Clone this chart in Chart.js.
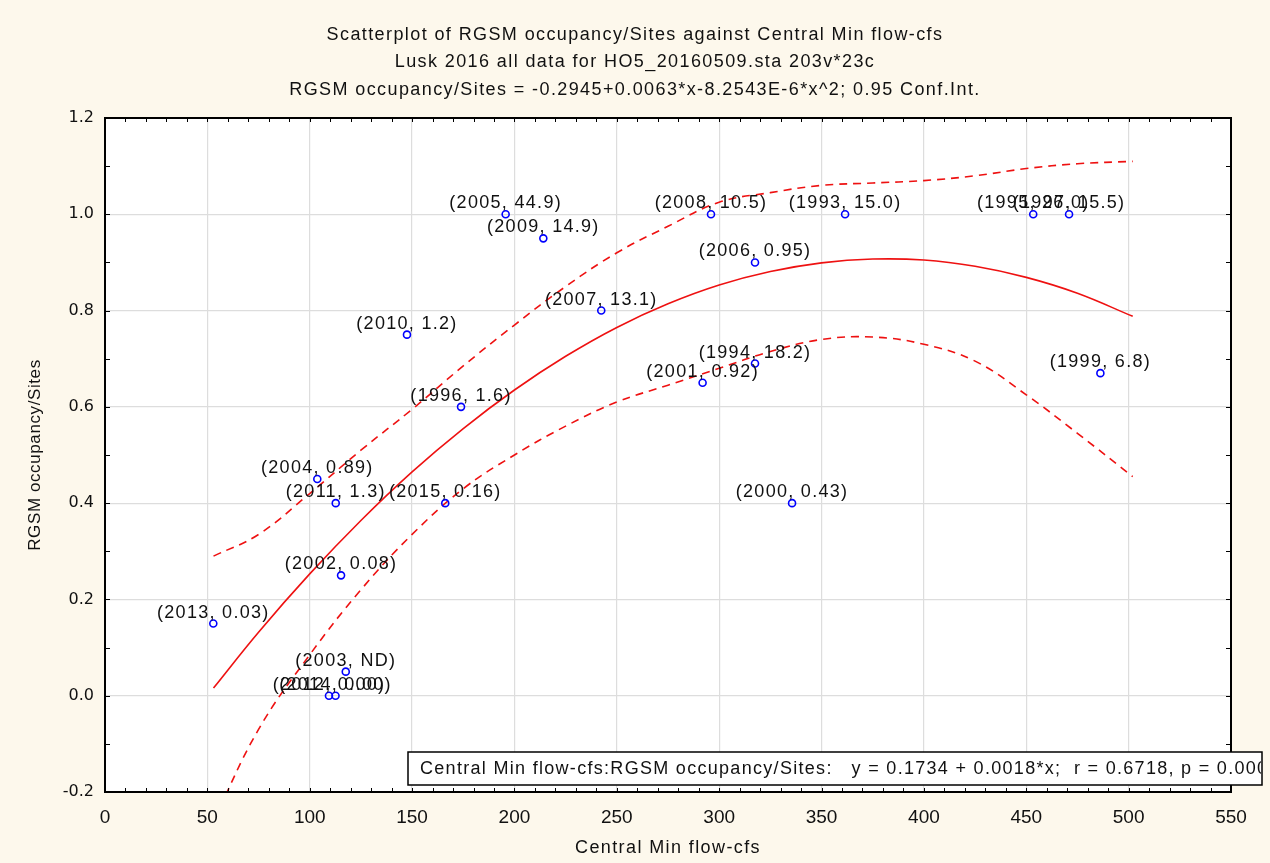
<!DOCTYPE html>
<html>
<head>
<meta charset="utf-8">
<script src="https://cdn.jsdelivr.net/npm/chart.js@4.4.1/dist/chart.umd.min.js"></script>
<style>
  html, body { margin: 0; padding: 0; background: #fdf8ec; }
  #wrap { width: 1270px; height: 863px; }
</style>
</head>
<body>
<div id="wrap"><canvas id="chart" width="1270" height="863"></canvas></div>
<script>
// Points: year label, second value in label, flow (x), occupancy (y)
const years = ['2013', '2003', '2012', '2014', '2002', '2011', '2004', '2015', '1996', '2010', '2005',
               '2009', '2007', '2008', '2006', '1994', '2001', '1999', '2000', '1993', '1995', '1997'];
const labelVals = ['0.03', 'ND', '0.00', '0.00', '0.08', '1.3', '0.89', '0.16', '1.6', '1.2', '44.9',
                   '14.9', '13.1', '10.5', '0.95', '18.2', '0.92', '6.8', '0.43', '15.0', '26.0', '15.5'];
const flowCfs = [52.9, 117.6, 109.4, 112.6, 115.3, 112.7, 103.7, 166.2, 173.9, 147.5, 195.7,
                 214.1, 242.4, 296.0, 317.5, 317.5, 291.9, 486.2, 335.6, 361.5, 453.4, 470.9];
const occupancy = [0.15, 0.05, 0.00, 0.00, 0.25, 0.40, 0.45, 0.40, 0.60, 0.75, 1.00,
                   0.95, 0.80, 1.00, 0.90, 0.69, 0.65, 0.67, 0.40, 1.00, 1.00, 1.00];

// Fitted curve and 0.95 confidence band
const fitX   = [53, 75, 100, 125, 150, 175, 200, 225, 250, 275, 300, 325, 350, 375, 400, 425, 450, 475, 502];
const fitY   = [0.016, 0.132, 0.253, 0.364, 0.465, 0.555, 0.635, 0.705, 0.765, 0.814, 0.853, 0.881, 0.899, 0.907, 0.905, 0.892, 0.869, 0.836, 0.788];
const upperY = [0.29, 0.335, 0.42, 0.51, 0.595, 0.685, 0.77, 0.85, 0.92, 0.975, 1.025, 1.045, 1.06, 1.065, 1.07, 1.08, 1.095, 1.105, 1.11];
const lowerY = [-0.26, -0.07, 0.085, 0.22, 0.335, 0.43, 0.50, 0.56, 0.61, 0.645, 0.68, 0.715, 0.74, 0.745, 0.73, 0.695, 0.625, 0.545, 0.455];

const titleLines = [
    'Scatterplot of RGSM occupancy/Sites against Central Min flow-cfs',
    'Lusk 2016 all data for HO5_20160509.sta 203v*23c',
    'RGSM occupancy/Sites = -0.2945+0.0063*x-8.2543E-6*x^2; 0.95 Conf.Int.'
];
const xTitle = 'Central Min flow-cfs';
const yTitle = 'RGSM occupancy/Sites';
const legendText = 'Central Min flow-cfs:RGSM occupancy/Sites:   y = 0.1734 + 0.0018*x;  r = 0.6718, p = 0.00004';

const toXY = (xs, ys) => xs.map((x, i) => ({ x: x, y: ys[i] }));
const FONT = '"Liberation Sans", Arial, sans-serif';

function drawText(ctx, text, x, y, font, spacing, align) {
    ctx.save();
    ctx.font = font;
    ctx.letterSpacing = spacing + 'px';
    ctx.fillStyle = '#111';
    ctx.textAlign = align || 'center';
    ctx.textBaseline = 'middle';
    ctx.fillText(text, x, y);
    ctx.restore();
}

// frame, minor ticks, titles, legend box
const decorPlugin = {
    id: 'decor',
    beforeDraw(chart) {
        const { ctx, chartArea: a } = chart;
        ctx.save();
        ctx.fillStyle = '#fdf8ec';
        ctx.fillRect(0, 0, chart.width, chart.height);
        ctx.fillStyle = '#ffffff';
        ctx.fillRect(a.left, a.top, a.right - a.left, a.bottom - a.top);
        ctx.restore();
    },
    afterDatasetsDraw(chart) {
        const ctx = chart.ctx;
        const meta = chart.getDatasetMeta(0);
        ctx.save();
        ctx.font = '18px ' + FONT;
        ctx.letterSpacing = '1.3px';
        ctx.fillStyle = '#111';
        ctx.textAlign = 'center';
        ctx.textBaseline = 'alphabetic';
        meta.data.forEach((pt, i) => {
            ctx.fillText('(' + years[i] + ', ' + labelVals[i] + ')', pt.x, pt.y - 6);
        });
        ctx.restore();
    },
    afterDraw(chart) {
        const { ctx, chartArea: a, scales } = chart;
        const xs = scales.x, ys = scales.y;
        ctx.save();
        ctx.strokeStyle = '#000';
        ctx.lineWidth = 1;
        ctx.beginPath();
        for (let v = 0; v <= 550; v += 10) {
            const px = Math.round(xs.getPixelForValue(v)) + 0.5;
            ctx.moveTo(px, a.top); ctx.lineTo(px, a.top + 4);
            ctx.moveTo(px, a.bottom); ctx.lineTo(px, a.bottom - 4);
        }
        for (let v = -2; v <= 12; v += 1) {
            const py = Math.round(ys.getPixelForValue(v / 10)) + 0.5;
            ctx.moveTo(a.left, py); ctx.lineTo(a.left + 5, py);
            ctx.moveTo(a.right, py); ctx.lineTo(a.right - 5, py);
        }
        ctx.stroke();
        ctx.lineWidth = 2;
        ctx.strokeRect(a.left, a.top, a.right - a.left, a.bottom - a.top);
        ctx.restore();

        titleLines.forEach((t, i) => {
            drawText(ctx, t, chart.width / 2, 35 + i * 27.5, '18px ' + FONT, 1.4);
        });
        drawText(ctx, xTitle, (a.left + a.right) / 2, 848, '18px ' + FONT, 1.4);
        ctx.save();
        ctx.translate(35, (a.top + a.bottom) / 2);
        ctx.rotate(-Math.PI / 2);
        drawText(ctx, yTitle, 0, 0, '17px ' + FONT, 0.6);
        ctx.restore();

        // regression legend box, runs off the right edge
        ctx.save();
        const bx = 408, by = 752, bw = 854, bh = 33;
        ctx.fillStyle = '#fff';
        ctx.fillRect(bx, by, bw, bh);
        ctx.strokeStyle = '#000';
        ctx.lineWidth = 1.5;
        ctx.strokeRect(bx, by, bw, bh);
        ctx.beginPath();
        ctx.rect(bx, by, bw - 1, bh);
        ctx.clip();
        drawText(ctx, legendText, bx + 12, by + bh / 2 + 1, '18px ' + FONT, 1.3, 'left');
        ctx.restore();
    }
};

const ctx = document.getElementById('chart').getContext('2d');
const chart = new Chart(ctx, {
    type: 'scatter',
    data: {
        datasets: [
            {
                label: 'points',
                data: toXY(flowCfs, occupancy),
                pointStyle: 'circle',
                pointRadius: 3.5,
                pointBorderWidth: 1.6,
                borderColor: '#0000ff',
                backgroundColor: 'rgba(255,255,255,0)',
                showLine: false
            },
            {
                label: 'fit',
                data: toXY(fitX, fitY),
                showLine: true,
                borderColor: '#ee1111',
                borderWidth: 1.6,
                pointRadius: 0,
                tension: 0.4,
                fill: false
            },
            {
                label: 'upper',
                data: toXY(fitX, upperY),
                showLine: true,
                borderColor: '#ee1111',
                borderWidth: 1.6,
                borderDash: [8, 6],
                pointRadius: 0,
                tension: 0.4,
                fill: false
            },
            {
                label: 'lower',
                data: toXY(fitX, lowerY),
                showLine: true,
                borderColor: '#ee1111',
                borderWidth: 1.6,
                borderDash: [8, 6],
                pointRadius: 0,
                tension: 0.4,
                fill: false
            }
        ]
    },
    options: {
        responsive: false,
        animation: false,
        layout: { padding: { top: 118, right: 39, left: 0, bottom: 0 } },
        scales: {
            x: {
                type: 'linear',
                min: 0,
                max: 550,
                border: { display: false },
                grid: { color: '#dddddd', lineWidth: 1.2, drawTicks: false },
                ticks: {
                    stepSize: 50,
                    autoSkip: false,
                    maxRotation: 0,
                    padding: 14,
                    color: '#111',
                    font: { family: '"Liberation Sans Narrow", "Liberation Sans", Arial, sans-serif', size: 19 }
                },
                afterFit(scale) { scale.height = 71; }
            },
            y: {
                type: 'linear',
                min: -0.2,
                max: 1.2,
                border: { display: false },
                grid: { color: '#dddddd', lineWidth: 1.2, drawTicks: false },
                ticks: {
                    stepSize: 0.2,
                    padding: 11,
                    color: '#111',
                    font: { family: '"DejaVu Sans", Verdana, sans-serif', size: 16 },
                    callback: (v) => (Math.abs(v) < 1e-9 ? 0 : v).toFixed(1)
                },
                afterFit(scale) { scale.width = 105; }
            }
        },
        plugins: {
            legend: { display: false },
            title: { display: false },
            tooltip: { enabled: false }
        }
    },
    plugins: [decorPlugin]
});
</script>
</body>
</html>
